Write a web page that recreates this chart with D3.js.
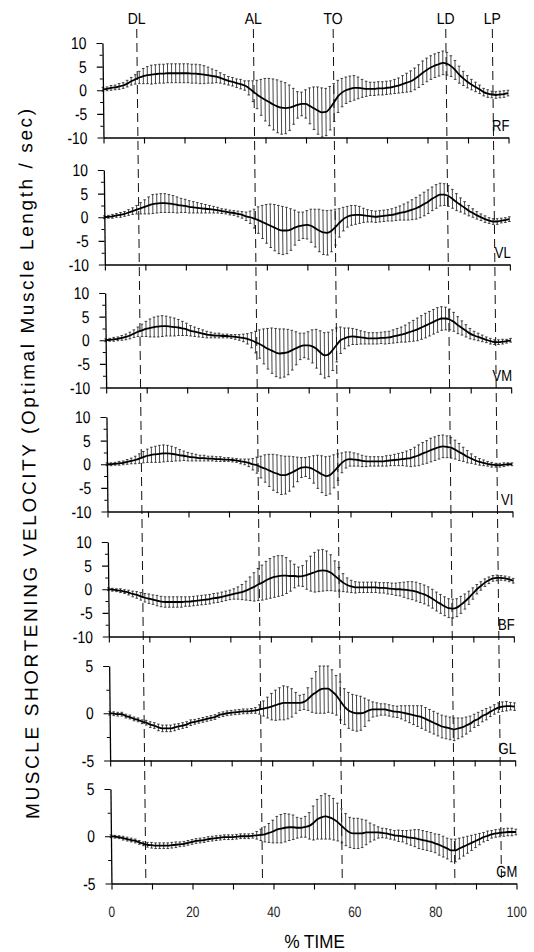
<!DOCTYPE html>
<html><head><meta charset="utf-8">
<script src="https://cdn.jsdelivr.net/npm/d3@7"></script>
<style>body{margin:0;background:#fff}svg{display:block}text{font-family:"Liberation Sans",Arial,Helvetica,sans-serif;fill:#000}</style>
</head><body><svg id="c" width="534" height="952"></svg>
<script>
// ---------------- DATA ----------------
const muscles = ["RF","VL","VM","VI","BF","GL","GM"];
const timePct = d3.range(0, 101, 1); // % of cycle, sampled every 1 %
const yRanges = [10,10,10,10,10,5,5];
const yTickLabels10 = [10,5,0,-5,-10];
const yTickLabels5 = [5,0,-5];
const xTickValues = [0,10,20,30,40,50,60,70,80,90,100];
const xTickLabels = [0,20,40,60,80,100];
const eventNames = ["DL","AL","TO","LD","LP"];
const eventPct = [8.5,37.3,57.0,84.8,96.3];
const yTitle = "MUSCLE SHORTENING VELOCITY (Optimal Muscle Length / sec)";
const xTitle = "% TIME";

const rfMean = [0.2,0.3,0.5,0.6,0.8,1.0,1.4,1.9,2.3,2.7,
3.0,3.2,3.3,3.4,3.5,3.5,3.6,3.6,3.6,3.6,
3.6,3.6,3.5,3.5,3.4,3.3,3.2,3.0,2.9,2.6,
2.3,2.0,1.8,1.5,1.3,1.0,0.5,-0.2,-0.9,-1.5,
-2.0,-2.5,-3.0,-3.4,-3.7,-3.8,-3.7,-3.4,-3.1,-2.9,
-2.9,-3.3,-3.8,-4.3,-4.7,-4.6,-3.8,-2.6,-1.3,-0.5,
0.0,0.3,0.5,0.5,0.4,0.3,0.3,0.3,0.4,0.4,
0.5,0.6,0.8,1.0,1.3,1.6,1.9,2.4,3.0,3.7,
4.3,4.8,5.2,5.5,5.8,5.6,5.1,4.3,3.3,2.5,
1.8,1.2,0.7,0.2,-0.4,-0.7,-0.9,-1.0,-0.9,-0.8,
-0.6];
const rfSD = [0.4,0.4,0.5,0.5,0.6,0.6,0.7,0.8,1.0,1.3,
1.6,1.8,2.0,2.0,2.0,2.0,2.0,2.0,2.0,2.0,
2.0,2.0,2.0,2.0,2.0,1.9,1.7,1.5,1.3,1.1,
1.0,0.9,0.9,0.9,1.0,1.0,1.5,2.2,3.0,3.8,
4.5,5.0,5.4,5.6,5.6,5.4,4.8,3.8,2.8,2.5,
3.0,3.8,4.5,5.0,5.2,5.0,4.6,4.0,3.4,3.0,
2.8,2.7,2.6,2.3,1.9,1.6,1.4,1.4,1.4,1.4,
1.4,1.4,1.5,1.6,1.8,2.0,2.2,2.3,2.4,2.5,
2.5,2.5,2.5,2.5,2.5,2.4,2.2,2.0,1.8,1.5,
1.3,1.1,1.0,0.9,0.8,0.8,0.7,0.7,0.7,0.7,
0.6];
const vlMean = [0.0,0.1,0.2,0.4,0.5,0.7,1.0,1.3,1.6,1.9,
2.2,2.5,2.8,2.9,3.0,3.0,2.9,2.8,2.6,2.5,
2.4,2.2,2.1,2.0,1.9,1.8,1.7,1.6,1.5,1.3,
1.2,1.0,0.9,0.7,0.5,0.2,0.0,-0.3,-0.6,-1.0,
-1.4,-1.8,-2.2,-2.6,-2.8,-2.8,-2.6,-2.2,-1.9,-1.7,
-1.6,-1.8,-2.3,-2.8,-3.2,-3.3,-2.9,-2.1,-1.2,-0.4,
0.1,0.4,0.5,0.5,0.4,0.3,0.2,0.1,0.2,0.3,
0.4,0.5,0.7,0.9,1.1,1.3,1.6,1.9,2.3,2.8,
3.3,3.9,4.4,4.8,4.8,4.5,3.9,3.2,2.6,2.0,
1.4,0.9,0.4,0.0,-0.4,-0.7,-0.9,-0.9,-0.7,-0.6,
-0.4];
const vlSD = [0.3,0.3,0.4,0.4,0.5,0.5,0.6,0.7,0.9,1.2,
1.5,1.8,2.0,2.0,2.0,2.0,1.9,1.8,1.7,1.5,
1.4,1.3,1.2,1.1,1.0,0.9,0.8,0.7,0.6,0.5,
0.5,0.5,0.5,0.6,0.7,0.9,1.3,2.0,2.8,3.5,
4.1,4.6,4.9,5.1,5.1,4.9,4.4,3.7,3.0,2.8,
3.0,3.5,4.0,4.5,4.7,4.7,4.4,3.8,3.0,2.5,
2.2,2.1,2.0,1.8,1.5,1.3,1.2,1.2,1.2,1.2,
1.2,1.3,1.4,1.5,1.7,1.9,2.1,2.3,2.4,2.5,
2.5,2.5,2.5,2.4,2.3,2.2,2.0,1.8,1.5,1.3,
1.1,0.9,0.8,0.7,0.7,0.6,0.6,0.6,0.5,0.5,
0.5];
const vmMean = [0.0,0.1,0.2,0.3,0.5,0.7,1.0,1.4,1.8,2.1,
2.4,2.6,2.8,2.9,3.0,3.0,2.9,2.8,2.7,2.5,
2.3,2.0,1.8,1.6,1.4,1.2,1.1,1.0,1.0,0.9,
0.9,0.8,0.7,0.6,0.5,0.3,0.0,-0.4,-0.8,-1.3,
-1.8,-2.2,-2.6,-2.8,-2.7,-2.5,-2.1,-1.7,-1.3,-1.1,
-1.1,-1.3,-1.8,-2.6,-3.2,-3.0,-2.1,-1.0,0.0,0.4,
0.7,0.8,0.7,0.6,0.5,0.4,0.4,0.4,0.5,0.5,
0.6,0.8,1.0,1.2,1.4,1.7,2.0,2.3,2.7,3.1,
3.5,3.9,4.3,4.6,4.6,4.4,3.9,3.2,2.6,2.0,
1.4,1.0,0.7,0.4,0.1,-0.2,-0.4,-0.4,-0.3,-0.2,
0.0];
const vmSD = [0.3,0.3,0.4,0.4,0.5,0.6,0.7,0.8,1.0,1.3,
1.6,1.9,2.1,2.2,2.2,2.1,2.0,1.9,1.7,1.5,
1.3,1.1,1.0,0.9,0.8,0.7,0.6,0.5,0.5,0.4,
0.4,0.4,0.5,0.6,0.8,1.1,1.6,2.3,3.0,3.7,
4.3,4.8,5.1,5.2,5.1,4.8,4.2,3.5,2.8,2.6,
2.9,3.5,4.1,4.6,4.8,4.7,4.3,3.6,2.8,2.2,
1.9,1.7,1.6,1.4,1.3,1.2,1.2,1.2,1.2,1.3,
1.3,1.4,1.5,1.6,1.8,2.0,2.2,2.4,2.5,2.6,
2.6,2.6,2.6,2.5,2.4,2.2,2.0,1.8,1.5,1.3,
1.1,0.9,0.8,0.7,0.6,0.6,0.5,0.5,0.5,0.4,
0.4];
const viMean = [0.0,0.0,0.1,0.2,0.3,0.5,0.7,0.9,1.2,1.5,
1.8,2.0,2.1,2.2,2.3,2.3,2.2,2.1,1.9,1.8,
1.6,1.5,1.4,1.3,1.3,1.2,1.2,1.1,1.1,1.0,
1.0,0.9,0.8,0.6,0.5,0.3,0.0,-0.2,-0.6,-0.9,
-1.3,-1.7,-2.0,-2.3,-2.3,-2.0,-1.6,-1.1,-0.7,-0.6,
-0.7,-1.1,-1.6,-2.1,-2.5,-2.3,-1.5,-0.6,0.3,0.9,
1.1,1.0,0.9,0.7,0.6,0.6,0.6,0.6,0.6,0.7,
0.8,0.9,1.0,1.1,1.2,1.3,1.6,1.9,2.3,2.6,
3.0,3.3,3.6,3.8,3.7,3.5,3.1,2.6,2.1,1.6,
1.2,0.8,0.5,0.3,0.1,-0.1,-0.2,-0.2,-0.1,0.0,
0.0];
const viSD = [0.3,0.3,0.3,0.4,0.4,0.5,0.6,0.8,1.0,1.2,
1.4,1.6,1.7,1.8,1.8,1.7,1.6,1.4,1.2,1.0,
0.9,0.8,0.7,0.6,0.6,0.5,0.5,0.5,0.5,0.4,
0.4,0.4,0.4,0.5,0.6,0.8,1.2,1.7,2.3,2.9,
3.4,3.8,4.0,4.1,4.0,3.7,3.2,2.6,2.1,2.0,
2.3,2.9,3.5,3.9,4.1,4.0,3.5,2.8,2.1,1.7,
1.5,1.4,1.3,1.2,1.1,1.0,1.0,1.0,1.0,1.1,
1.1,1.2,1.3,1.4,1.6,1.8,2.0,2.2,2.3,2.4,
2.5,2.5,2.5,2.4,2.3,2.2,2.0,1.8,1.5,1.3,
1.0,0.8,0.7,0.6,0.5,0.5,0.4,0.4,0.4,0.3,
0.3];
const bfMean = [0.0,-0.1,-0.2,-0.3,-0.5,-0.7,-1.0,-1.2,-1.5,-1.8,
-2.0,-2.2,-2.4,-2.6,-2.7,-2.7,-2.7,-2.7,-2.7,-2.6,
-2.6,-2.5,-2.4,-2.3,-2.2,-2.1,-1.9,-1.8,-1.6,-1.4,
-1.2,-1.0,-0.8,-0.6,-0.3,0.1,0.5,1.0,1.4,1.9,
2.3,2.6,2.8,2.9,2.9,2.8,2.8,2.7,2.8,3.0,
3.3,3.6,3.9,4.0,3.9,3.5,2.8,2.1,1.4,0.9,
0.6,0.4,0.4,0.4,0.4,0.4,0.4,0.3,0.3,0.2,
0.1,0.0,0.0,-0.1,-0.2,-0.3,-0.5,-0.8,-1.1,-1.5,
-2.0,-2.6,-3.1,-3.6,-4.0,-4.1,-3.9,-3.3,-2.6,-1.8,
-0.9,0.0,0.7,1.4,1.9,2.3,2.4,2.4,2.3,2.1,
1.8];
const bfSD = [0.3,0.3,0.3,0.4,0.4,0.5,0.6,0.7,0.8,0.9,
1.0,1.0,1.1,1.1,1.1,1.1,1.1,1.1,1.1,1.0,
1.0,1.0,1.0,1.0,1.0,1.0,1.0,1.0,1.0,1.0,
1.0,1.1,1.3,1.6,2.0,2.5,3.0,3.4,3.7,4.0,
4.2,4.3,4.3,4.2,3.8,3.2,2.5,2.0,2.2,3.0,
3.7,4.2,4.4,4.4,4.2,3.8,3.2,2.5,1.9,1.5,
1.3,1.2,1.1,1.1,1.1,1.1,1.1,1.1,1.1,1.2,
1.2,1.3,1.4,1.6,1.8,1.9,2.0,2.0,2.0,2.0,
2.0,2.0,2.0,2.0,2.0,2.0,1.9,1.8,1.6,1.4,
1.2,1.0,0.9,0.8,0.7,0.6,0.6,0.5,0.5,0.5,
0.5];
const glMean = [0.0,-0.05,-0.1,-0.1,-0.3,-0.4,-0.6,-0.7,-0.9,-1.0,
-1.2,-1.3,-1.5,-1.6,-1.6,-1.6,-1.5,-1.4,-1.3,-1.2,
-1.0,-0.9,-0.8,-0.7,-0.6,-0.5,-0.4,-0.2,-0.1,0.0,
0.05,0.1,0.15,0.2,0.2,0.25,0.3,0.4,0.5,0.6,
0.7,0.85,1.0,1.1,1.1,1.1,1.1,1.1,1.2,1.5,
1.9,2.2,2.5,2.6,2.6,2.3,1.9,1.3,0.7,0.3,
0.1,0.0,0.0,0.1,0.3,0.4,0.4,0.4,0.4,0.3,
0.2,0.15,0.1,0.0,-0.1,-0.2,-0.3,-0.4,-0.6,-0.8,
-1.0,-1.2,-1.4,-1.5,-1.6,-1.7,-1.6,-1.5,-1.3,-1.1,
-0.8,-0.6,-0.3,-0.1,0.15,0.4,0.6,0.7,0.75,0.75,
0.7];
const glSD = [0.2,0.2,0.2,0.2,0.2,0.2,0.2,0.2,0.2,0.25,
0.3,0.3,0.35,0.35,0.35,0.35,0.35,0.3,0.3,0.3,
0.3,0.25,0.25,0.25,0.25,0.25,0.25,0.25,0.25,0.25,
0.25,0.25,0.25,0.25,0.25,0.25,0.3,0.5,0.8,1.1,
1.4,1.6,1.7,1.8,1.7,1.5,1.1,0.8,0.8,1.2,
1.8,2.2,2.5,2.6,2.5,2.3,2.1,2.0,1.9,1.9,
1.9,1.9,1.8,1.5,1.1,0.8,0.7,0.6,0.6,0.6,
0.6,0.6,0.7,0.8,0.9,1.0,1.1,1.2,1.2,1.2,
1.2,1.2,1.2,1.2,1.2,1.2,1.1,1.0,0.9,0.8,
0.7,0.7,0.6,0.6,0.5,0.5,0.5,0.5,0.5,0.4,
0.4];
const gmMean = [0.0,-0.05,-0.1,-0.2,-0.3,-0.4,-0.5,-0.65,-0.8,-0.9,
-0.95,-1.0,-1.0,-1.0,-1.0,-0.95,-0.9,-0.85,-0.8,-0.7,
-0.6,-0.5,-0.45,-0.4,-0.3,-0.25,-0.2,-0.15,-0.1,-0.1,
-0.1,-0.05,0.0,0.0,0.0,0.05,0.1,0.15,0.2,0.35,
0.5,0.7,0.8,0.9,0.95,0.95,0.9,0.9,1.0,1.1,
1.4,1.8,2.0,2.1,2.0,1.8,1.5,1.1,0.7,0.4,
0.3,0.3,0.3,0.4,0.4,0.4,0.4,0.35,0.3,0.2,
0.1,0.05,0.0,-0.1,-0.15,-0.2,-0.3,-0.4,-0.5,-0.6,
-0.75,-0.9,-1.1,-1.3,-1.5,-1.5,-1.3,-1.1,-0.9,-0.7,
-0.5,-0.3,-0.1,0.05,0.2,0.3,0.35,0.4,0.45,0.45,
0.45];
const gmSD = [0.15,0.15,0.15,0.2,0.2,0.2,0.2,0.2,0.2,0.25,
0.3,0.3,0.3,0.3,0.3,0.3,0.3,0.25,0.25,0.25,
0.25,0.25,0.25,0.25,0.25,0.25,0.25,0.25,0.25,0.25,
0.25,0.25,0.25,0.25,0.25,0.25,0.4,0.6,0.8,1.0,
1.2,1.4,1.5,1.5,1.4,1.3,1.1,1.0,1.1,1.4,
1.8,2.1,2.3,2.4,2.3,2.2,2.0,1.8,1.7,1.6,
1.6,1.6,1.5,1.3,1.0,0.8,0.6,0.5,0.5,0.5,
0.5,0.6,0.6,0.7,0.8,0.9,1.0,1.0,1.0,1.0,
1.0,1.1,1.1,1.1,1.2,1.2,1.1,1.0,0.9,0.8,
0.7,0.6,0.5,0.5,0.4,0.4,0.4,0.4,0.4,0.4,
0.3];

const meanSeries = [rfMean, vlMean, vmMean, viMean, bfMean, glMean, gmMean];
const sdSeries = [rfSD, vlSD, vmSD, viSD, bfSD, glSD, gmSD];

// ---------------- LAYOUT ----------------
const svg = d3.select("#c");
// the scanned figure is slightly sheared: verticals lean to the right going down
const root = svg.append("g").attr("transform", "skewX(0.613)");
const x = d3.scaleLinear().domain([0, 100]).range([102, 507]);
const tops = [43, 170, 293, 417, 542, 666, 789];
const panelH = 94.5;
const lastBottom = tops[6] + panelH;

// event dashed lines (behind everything)
const evG = root.append("g");
eventPct.forEach((e, k) => {
  evG.append("line")
    .attr("x1", x(e)).attr("x2", x(e))
    .attr("y1", 29).attr("y2", lastBottom)
    .attr("stroke", "#111").attr("stroke-width", 1)
    .attr("stroke-dasharray", "9,5");
  evG.append("text")
    .attr("transform", `translate(${x(e)},24) scale(0.88,1)`)
    .attr("text-anchor", "middle")
    .style("font-size", "16px")
    .text(eventNames[k]);
});

muscles.forEach((m, i) => {
  const r = yRanges[i];
  const y = d3.scaleLinear().domain([-r, r]).range([tops[i] + panelH, tops[i]]);
  const p = root.append("g");
  const mean = meanSeries[i], sd = sdSeries[i];

  // error bars
  const bars = p.append("g").attr("stroke", "#1a1a1a").attr("stroke-width", 0.8);
  mean.forEach((v, j) => {
    const lo = Math.max(-r, v - sd[j]), hi = Math.min(r, v + sd[j]);
    const xx = x(timePct[j]);
    bars.append("line").attr("x1", xx).attr("x2", xx).attr("y1", y(lo)).attr("y2", y(hi));
    bars.append("line").attr("x1", xx - 1.3).attr("x2", xx + 1.3).attr("y1", y(lo)).attr("y2", y(lo));
    bars.append("line").attr("x1", xx - 1.3).attr("x2", xx + 1.3).attr("y1", y(hi)).attr("y2", y(hi));
  });

  // mean curve
  const line = d3.line().x((d, j) => x(timePct[j])).y(d => y(d)).curve(d3.curveMonotoneX);
  p.append("path").datum(mean).attr("d", line)
    .attr("fill", "none").attr("stroke", "#000").attr("stroke-width", 1.8);

  // x axis at bottom of panel
  const xa = p.append("g").attr("transform", `translate(0,${y(-r)})`)
    .call(d3.axisBottom(x).tickValues(xTickValues).tickSize(6).tickSizeOuter(0).tickFormat(""));
  xa.select(".domain").attr("stroke", "#000").attr("stroke-width", 1.4);
  xa.selectAll(".tick line").attr("stroke", "#000").attr("stroke-width", 1.1);

  // y axis
  const major = r === 10 ? yTickLabels10 : yTickLabels5;
  const minor = r === 10 ? [7.5, 2.5, -2.5, -7.5] : [2.5, -2.5];
  const ya = p.append("g").attr("transform", `translate(${x(0)},0)`)
    .call(d3.axisLeft(y).tickValues(major).tickSize(6).tickSizeOuter(0).tickFormat(""));
  ya.select(".domain").attr("stroke", "#000").attr("stroke-width", 1.3);
  ya.selectAll(".tick line").attr("stroke", "#000").attr("stroke-width", 1.2);
  const ym = p.append("g").attr("transform", `translate(${x(0)},0)`)
    .call(d3.axisLeft(y).tickValues(minor).tickSize(3).tickSizeOuter(0).tickFormat(""));
  ym.select(".domain").remove();
  ym.selectAll(".tick line").attr("stroke", "#000").attr("stroke-width", 1);

  major.forEach(v => {
    p.append("text")
      .attr("transform", `translate(${x(0) - 16},${y(v)}) scale(0.82,1)`)
      .attr("text-anchor", "end").attr("dy", "0.36em")
      .style("font-size", "17px")
      .text(v);
  });

  // muscle label
  p.append("text")
    .attr("transform", `translate(${x(100) + 1},${tops[i] + 88}) scale(0.82,1)`)
    .attr("text-anchor", "end")
    .style("font-size", "16px")
    .text(m);
});

// bottom x tick labels
xTickLabels.forEach(v => {
  root.append("text")
    .attr("transform", `translate(${x(v)},${lastBottom + 33}) scale(0.8,1)`)
    .attr("text-anchor", "middle")
    .style("font-size", "15px").style("fill", "#222")
    .text(v);
});

// axis titles
root.append("text")
  .attr("transform", `translate(${x(50)},948) scale(0.9,1)`)
  .attr("text-anchor", "middle")
  .style("font-size", "19px")
  .text(xTitle);

root.append("text")
  .attr("transform", "translate(24,464) rotate(-90)")
  .attr("text-anchor", "middle")
  .attr("dominant-baseline", "central")
  .attr("textLength", 710)
  .attr("lengthAdjust", "spacing")
  .style("font-size", "19px")
  .text(yTitle);
</script>
</body></html>
